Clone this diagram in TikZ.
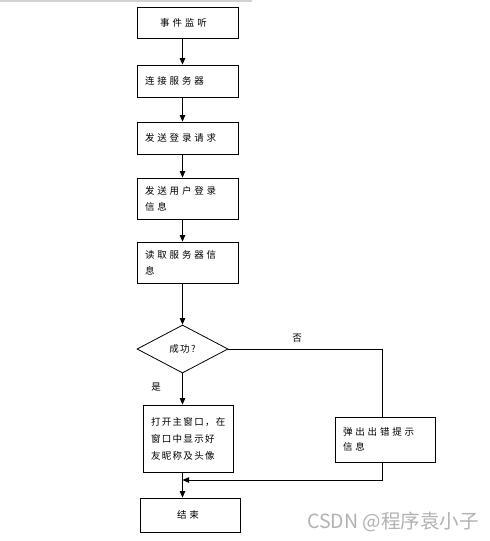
\documentclass[tikz,border=0pt]{standalone}
\usepackage{fontspec}
\newfontfamily\cjk[LetterSpace=30]{Noto Sans CJK SC}
\newfontfamily\cjkn[LetterSpace=14]{Noto Sans CJK SC}
\newfontfamily\wmfont{Noto Sans CJK SC}
\usetikzlibrary{shapes.geometric,arrows.meta}
\begin{document}
\begin{tikzpicture}[x=1pt,y=-1pt,
  line width=0.8pt,
  box/.style={draw, line width=0.8pt, inner xsep=8pt, inner ysep=0pt,
    align=left, font=\cjk\fontsize{9.5}{16}\selectfont, anchor=center},
  arr/.style={-{Triangle[length=6.5pt,width=5.5pt]}},
  lbl/.style={font=\cjk\fontsize{9.5}{12}\selectfont, inner sep=0pt},
]
\useasboundingbox[fill=white] (0,0) rectangle (490,541);
\draw[line width=1.6pt, black!18] (0,0.8) -- (252,0.8);

\node[box, text width=85pt, minimum height=31pt, align=center] (b1) at (187.5,22.5) {\hspace*{-8pt}事件监听};
\node[box, text width=85pt, minimum height=32pt] (b2) at (187.5,81) {连接服务器};
\node[box, text width=85pt, minimum height=32pt] (b3) at (187.5,138) {发送登录请求};
\node[box, text width=85pt, minimum height=41pt] (b4) at (187.5,198.5) {发送用户登录\\信息};
\node[box, text width=85pt, minimum height=41pt] (b5) at (187.5,262.5) {读取服务器信\\息};
\node[draw, diamond, aspect=1.9, minimum width=91pt, minimum height=48pt, inner sep=0pt,
  font=\cjkn\fontsize{9.5}{12}\selectfont] (dia) at (182.5,349) {成功?};
\node[box, text width=74pt, inner xsep=8pt, minimum height=67pt, font=\cjkn\fontsize{9.5}{17}\selectfont] (b7) at (188,438.5) {打开主窗口，在\\窗口中显示好\\友昵称及头像};
\node[box, text width=84pt, minimum height=45pt, font=\cjk\fontsize{9.5}{15}\selectfont] (b6) at (385,439.5) {弹出出错提示\\信息};
\node[box, text width=84pt, minimum height=34pt, align=center] (b8) at (190,515) {\hspace*{-4pt}结束};

\node[lbl] (no) at (297,338) {否};
\node[lbl] (yes) at (156,387) {是};

\coordinate (vx) at (382,0);
\coordinate (jn) at (182.5,480);

\draw[arr] (b1.south -| dia) -- (b2.north -| dia);
\draw[arr] (b2.south -| dia) -- (b3.north -| dia);
\draw[arr] (b3.south -| dia) -- (b4.north -| dia);
\draw[arr] (b4.south -| dia) -- (b5.north -| dia);
\draw[arr] (b5.south -| dia) -- (dia.north);
\draw[arr] (dia.south) -- (b7.north -| dia);
\draw (dia.east) -- (dia.east -| vx) -- (b6.north -| vx);
\draw[arr] (b6.south -| vx) -- (jn -| vx) -- (jn);
\draw[arr] (b7.south -| dia) -- (b8.north -| dia);

\node[font=\wmfont\fontsize{19.5}{21}\selectfont, text=black!30, inner sep=0pt, anchor=east] (wm) at (479,522) {CSDN @程序袁小子};
\end{tikzpicture}
\end{document}
